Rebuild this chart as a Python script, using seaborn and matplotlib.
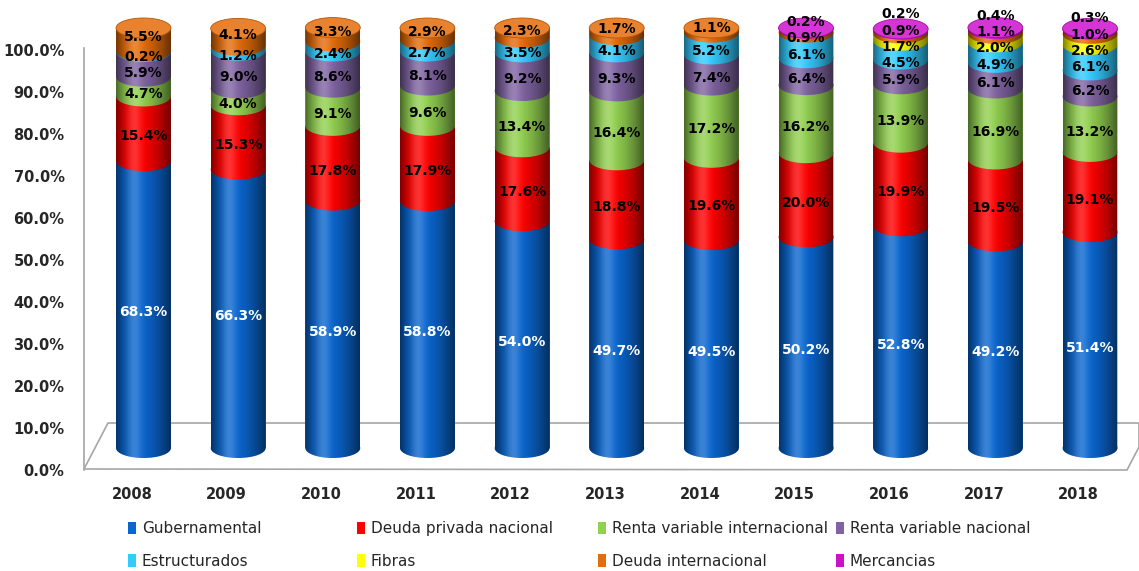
import numpy as np
import matplotlib
matplotlib.use("Agg")
import matplotlib.pyplot as plt
import seaborn as sns
from matplotlib.patches import Ellipse, Polygon, Patch
from matplotlib.path import Path

# ---- data (share of portfolio, %) ----
years = ['2008', '2009', '2010', '2011', '2012', '2013', '2014', '2015', '2016', '2017', '2018']
gubernamental = [68.3, 66.3, 58.9, 58.8, 54.0, 49.7, 49.5, 50.2, 52.8, 49.2, 51.4]
deuda_privada = [15.4, 15.3, 17.8, 17.9, 17.6, 18.8, 19.6, 20.0, 19.9, 19.5, 19.1]
rv_internacional = [4.7, 4.0, 9.1, 9.6, 13.4, 16.4, 17.2, 16.2, 13.9, 16.9, 13.2]
rv_nacional = [5.9, 9.0, 8.6, 8.1, 9.2, 9.3, 7.4, 6.4, 5.9, 6.1, 6.2]
estructurados = [0.2, 1.2, 2.4, 2.7, 3.5, 4.1, 5.2, 6.1, 4.5, 4.9, 6.1]
fibras = [0, 0, 0, 0, 0, 0, 0, 0, 1.7, 2.0, 2.6]
deuda_internacional = [5.5, 4.1, 3.3, 2.9, 2.3, 1.7, 1.1, 0.9, 0.9, 1.1, 1.0]
mercancias = [0, 0, 0, 0, 0, 0, 0, 0.2, 0.2, 0.4, 0.3]

series_names = ['Gubernamental', 'Deuda privada nacional', 'Renta variable internacional',
                'Renta variable nacional', 'Estructurados', 'Fibras',
                'Deuda internacional', 'Mercancias']
series_values = [gubernamental, deuda_privada, rv_internacional, rv_nacional,
                 estructurados, fibras, deuda_internacional, mercancias]
colors = ['#0A66CF', '#FF0000', '#92D050', '#8064A2',
          '#33CCFF', '#FFFF00', '#E46C0A', '#CC11CC']

sns.set_style('white')
plt.rcParams['font.family'] = ['DejaVu Sans']

W, H = 1139, 571
fig = plt.figure(figsize=(W / 100, H / 100), dpi=100)


def px_rect(l, t, r, b):
    return [l / W, 1 - b / H, (r - l) / W, (b - t) / H]


# pixel geometry of the fake 3D projection
LBL_X0, BAR_X0, DX = 132, 143.5, 94.65
PY, Y0_BACK, Y0_BAR = 4.2, 470, 448

ax_back = fig.add_axes(px_rect(84, 10, 1139, 470))
ax_bar = fig.add_axes(px_rect(84, 10, 1139, 470))
ax_bar.patch.set_alpha(0)


def to_back(px, py):
    return ((px - LBL_X0) / DX, (Y0_BACK - py) / PY)


# floor of the 3D box
floor = Polygon([to_back(84, 469), to_back(1127, 470), to_back(1139, 447),
                 to_back(1139, 423), to_back(108, 423)], closed=True,
                facecolor='white', edgecolor='#A6A6A6', lw=1.2, clip_on=False, zorder=1)
ax_back.add_patch(floor)

for s in ['top', 'right', 'bottom']:
    ax_back.spines[s].set_visible(False)
ax_back.spines['left'].set_color('#A6A6A6')
ax_back.spines['left'].set_linewidth(1.2)
ax_back.spines['left'].set_bounds(0, 100.5)

ax_back.set_xlim((84 - LBL_X0) / DX, (1139 - LBL_X0) / DX)
ax_back.set_ylim(0, (Y0_BACK - 10) / PY)
ax_back.set_yticks(np.arange(0, 101, 10))
ax_back.set_yticklabels([f'{v:.1f}%' for v in np.arange(0, 101, 10)],
                        fontsize=10.5, fontweight='bold')
ax_back.set_xticks(range(len(years)))
ax_back.set_xticklabels(years, fontsize=10.5, fontweight='bold')
ax_back.tick_params(axis='y', length=0, pad=14)
ax_back.tick_params(axis='x', length=0, pad=12)
ax_back.grid(False)

# ---- stacked cylinders ----
bar_w = 0.58
eh = 20 / PY  # ellipse height in data units
cum = np.zeros(len(years))
for k, (vals, col) in enumerate(zip(series_values, colors)):
    vals = np.array(vals, dtype=float)
    n0 = len(ax_bar.patches)
    sns.barplot(x=years, y=vals, bottom=cum, color=col, width=bar_w, saturation=1,
                errorbar=None, linewidth=0, ax=ax_bar)
    for p in ax_bar.patches[n0:]:
        p.set_zorder(2 + k)
    for i, (b, v) in enumerate(zip(cum, vals)):
        if v > 0:
            ax_bar.add_patch(Ellipse((i, b), bar_w, eh, facecolor=col, lw=0, zorder=2 + k))
    cum = cum + vals

# cylinder shading
t = np.linspace(0, 1, 80)
dark = np.where(t < 0.4, ((0.4 - t) / 0.4) ** 2 * 0.5, ((t - 0.4) / 0.6) ** 1.6 * 0.55)
light = np.exp(-((t - 0.33) / 0.13) ** 2) * 0.2
dark_img = np.zeros((1, len(t), 4))
dark_img[..., 3] = dark
light_img = np.ones((1, len(t), 4))
light_img[..., 3] = light

theta = np.linspace(0, np.pi, 40)
for i, top in enumerate(cum):
    x0, x1 = i - bar_w / 2, i + bar_w / 2
    arc = np.column_stack([i - bar_w / 2 * np.cos(theta), -eh / 2 * np.sin(theta)])
    verts = np.vstack([[x0, top], arc, [x1, top], [x0, top]])
    body = Path(verts)
    for img in (dark_img, light_img):
        im = ax_bar.imshow(img, extent=(x0, x1, -eh / 2, top), aspect='auto',
                           interpolation='bilinear', zorder=20)
        im.set_clip_path(body, ax_bar.transData)
    top_k = max(k for k, vals in enumerate(series_values) if vals[i] > 0)
    cap_col = np.array(matplotlib.colors.to_rgb(colors[top_k]))
    ax_bar.add_patch(Ellipse((i, top), bar_w, eh, facecolor=cap_col * 0.85 + 0.15,
                             edgecolor=cap_col * 0.8, lw=0.6, zorder=21))


# ---- data labels ----
def spread(pos, gap):
    pos = list(pos)
    for _ in range(300):
        moved = False
        for j in range(len(pos) - 1):
            d = gap - (pos[j + 1] - pos[j])
            if d > 1e-6:
                pos[j + 1] += 0.6 * d
                pos[j] -= 0.4 * d
                moved = True
        if not moved:
            break
    return pos


for i in range(len(years)):
    base = 0.0
    items = []
    nz = [k for k, vals in enumerate(series_values) if vals[i] > 0]
    for k, vals in enumerate(series_values):
        v = vals[i]
        if v > 0:
            off = 0.5 if k == nz[-1] else -1.8
            items.append((base + v / 2 + off, v, 'white' if k == 0 else 'black'))
        base += v
    ys = spread([it[0] for it in items], 3.9)
    for y, (_, v, c) in zip(ys, items):
        ax_bar.text(i, y, f'{v:.1f}%', ha='center', va='center', fontsize=10,
                    fontweight='bold', color=c, zorder=30, clip_on=False)

ax_bar.set_xlim((84 - BAR_X0) / DX, (1139 - BAR_X0) / DX)
ax_bar.set_ylim((Y0_BAR - 470) / PY, (Y0_BAR - 10) / PY)
ax_bar.axis('off')

# ---- legend: four columns of two rows ----
col_x = [128, 357, 598, 836]
for c in range(4):
    idx = [c, c + 4]
    handles = [Patch(facecolor=colors[j], lw=0) for j in idx]
    fig.legend(handles, [series_names[j] for j in idx], loc='center left',
               bbox_to_anchor=(col_x[c] / W, 1 - 545 / H), frameon=False,
               fontsize=11, handlelength=0.5, handleheight=0.9, handletextpad=0.4,
               labelspacing=1.15, borderpad=0, borderaxespad=0)

fig.savefig('out.png', dpi=100)
